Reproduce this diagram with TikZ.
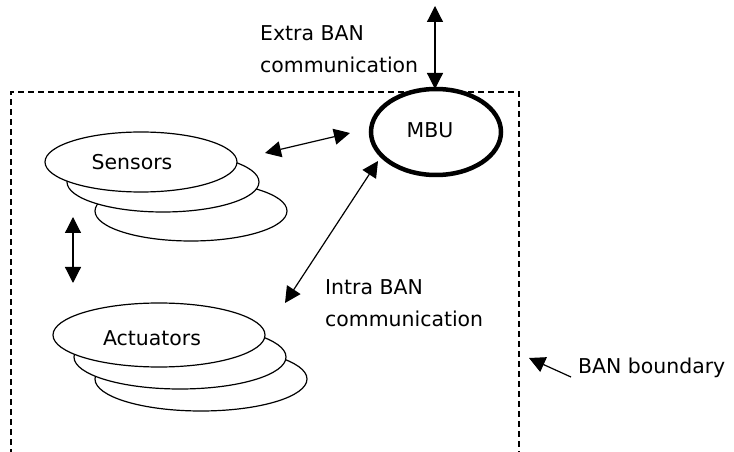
\documentclass[tikz,border=0pt]{standalone}
\usepackage{fontspec}
\setmainfont{DejaVu Sans}
\usetikzlibrary{shapes.geometric,arrows.meta}
\tikzset{
  disc/.style={draw, ellipse, fill=white, line width=1.2bp, inner sep=0pt,
    minimum width=192bp, minimum height=60bp},
  adisc/.style={disc, minimum width=212bp, minimum height=64bp},
  lbl/.style={font=\fontsize{20.5}{32}\selectfont, inner sep=0pt},
  dbl/.style={{Triangle[length=16bp,width=16bp]}-{Triangle[length=16bp,width=16bp]}, line width=1.2bp},
  sgl/.style={-{Triangle[length=16bp,width=16bp]}, line width=1.2bp},
  boundary/.style={line width=1.5bp, dash pattern=on 6bp off 4bp}
}
\begin{document}
\begin{tikzpicture}[x=1bp,y=-1bp]
\useasboundingbox (0,0) rectangle (734,452);
% boundary
\coordinate (b1) at (11,455);
\coordinate (b2) at (11,92);
\coordinate (b3) at (519,92);
\coordinate (b4) at (519,455);
\draw[boundary] (b1) -- (b2) -- (b3) -- (b4);
% MBU
\node[draw, ellipse, line width=4.5bp, fill=white, inner sep=0pt,
  minimum width=130bp, minimum height=86bp] (mbu) at (436,132) {};
\node[lbl] (mbut) at (430,130) {MBU};
% sensors
\node[disc] (s3) at (191,211) {};
\node[disc] (s2) at (163,182) {};
\node[disc] (s1) at (141,162) {};
\node[lbl] (st) at (132,162) {Sensors};
% actuators
\node[adisc] (a3) at (201,379) {};
\node[adisc] (a2) at (180,357) {};
\node[adisc] (a1) at (159,335) {};
\node[lbl] (at) at (152,338) {Actuators};
% texts
\node[lbl, anchor=west, align=left] (extra) at (260,49) {Extra BAN\\communication};
\node[lbl, anchor=west, align=left] (intra) at (325,303) {Intra BAN\\communication};
\node[lbl, anchor=west] (bnd) at (578,368) {BAN boundary};
% arrows
\coordinate (e1) at (435,6);
\coordinate (e2) at (435,89);
\draw[dbl] (e1) -- (e2);
\coordinate (sm1) at (265,153);
\coordinate (sm2) at (350,133);
\draw[dbl] (sm1) -- (sm2);
\coordinate (im1) at (378,161);
\coordinate (im2) at (285,303);
\draw[dbl] (im1) -- (im2);
\coordinate (sa1) at (73,217);
\coordinate (sa2) at (73,283);
\draw[dbl] (sa1) -- (sa2);
\coordinate (bt) at (571,377);
\coordinate (bh) at (529,358);
\draw[sgl] (bt) -- (bh);
\end{tikzpicture}
\end{document}
